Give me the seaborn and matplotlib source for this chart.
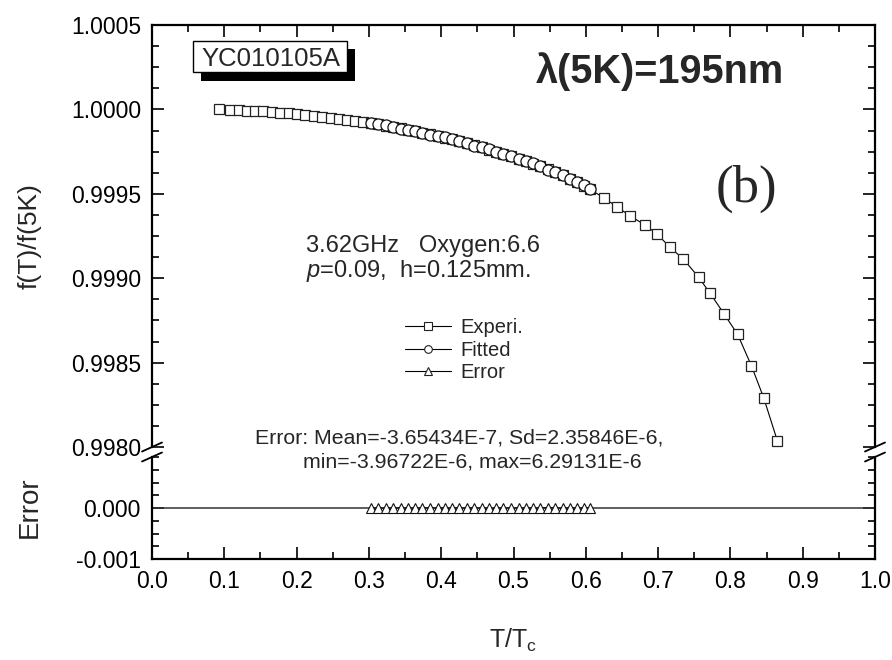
import matplotlib
matplotlib.use("Agg")
import matplotlib.pyplot as plt
import seaborn as sns
from matplotlib.ticker import FixedLocator, MultipleLocator, FormatStrFormatter
from matplotlib.patches import Rectangle
from matplotlib.lines import Line2D

sns.set_theme(style="ticks")
plt.rcParams["font.family"] = ["Liberation Sans", "DejaVu Sans"]
plt.rcParams["mathtext.fontset"] = "custom"
plt.rcParams["mathtext.rm"] = "Liberation Sans"
plt.rcParams["mathtext.it"] = "Liberation Sans:italic"

# ---- measured frequency shift, normalised to f(5K) ----
t_exp = [0.093, 0.108, 0.120, 0.131, 0.143, 0.154, 0.166, 0.177, 0.189, 0.200,
         0.212, 0.224, 0.235, 0.247, 0.258, 0.270, 0.281, 0.292,
         0.303, 0.313, 0.323, 0.333, 0.344, 0.354, 0.364, 0.374, 0.384, 0.395,
         0.405, 0.415, 0.425, 0.435, 0.446, 0.456, 0.466, 0.476, 0.486, 0.497,
         0.507, 0.517, 0.527, 0.537, 0.548, 0.558, 0.568, 0.578, 0.588, 0.597,
         0.606,
         0.625, 0.643, 0.661, 0.682, 0.699, 0.716, 0.735, 0.756, 0.772, 0.791,
         0.810, 0.829, 0.846, 0.865]
f_exp = [1.000000, 0.999998, 0.999996, 0.999993, 0.999990, 0.999988, 0.999984,
         0.999981, 0.999977, 0.999973, 0.999968, 0.999962, 0.999957, 0.999951,
         0.999945, 0.999939, 0.999932, 0.999925,
         0.999918, 0.999911, 0.999904, 0.999896, 0.999887, 0.999879, 0.999871,
         0.999862, 0.999853, 0.999842, 0.999832, 0.999822, 0.999811, 0.999801,
         0.999788, 0.999776, 0.999760, 0.999748, 0.999735, 0.999721, 0.999707,
         0.999693, 0.999679, 0.999664, 0.999646, 0.999628, 0.999610, 0.999590,
         0.999569, 0.999548, 0.999526,
         0.999476, 0.999423, 0.999370, 0.999315, 0.999260, 0.999185, 0.999113,
         0.999006, 0.998910, 0.998790, 0.998667, 0.998482, 0.998292, 0.998036]

# ---- model fit over the 0.30 - 0.61 window ----
t_fit = [0.303, 0.313, 0.323, 0.333, 0.344, 0.354, 0.364, 0.374, 0.384, 0.395,
         0.405, 0.415, 0.425, 0.435, 0.446, 0.456, 0.466, 0.476, 0.486, 0.497,
         0.507, 0.517, 0.527, 0.537, 0.548, 0.558, 0.568, 0.578, 0.588, 0.597,
         0.606]
f_fit = [0.999917, 0.999912, 0.999906, 0.999896, 0.999885, 0.999880, 0.999874,
         0.999861, 0.999850, 0.999842, 0.999834, 0.999822, 0.999814, 0.999800,
         0.999785, 0.999777, 0.999764, 0.999749, 0.999734, 0.999723, 0.999705,
         0.999694, 0.999681, 0.999664, 0.999640, 0.999630, 0.999613, 0.999590,
         0.999568, 0.999551, 0.999527]
err_fit = [1.2e-6, -0.8e-6, -2.1e-6, 0.5e-6, 1.8e-6, -1.4e-6, -3.1e-6, 0.9e-6,
           2.6e-6, -0.3e-6, -1.9e-6, 0.4e-6, -2.7e-6, 1.1e-6, 3.0e-6, -0.6e-6,
           -3.96722e-6, -1.2e-6, 0.7e-6, -2.2e-6, 1.6e-6, -0.9e-6, -2.5e-6,
           0.2e-6, 6.29131e-6, -1.7e-6, -3.3e-6, -0.4e-6, 1.3e-6, -2.8e-6, -0.9e-6]

x_ticks = [0.0, 0.1, 0.2, 0.3, 0.4, 0.5, 0.6, 0.7, 0.8, 0.9, 1.0]
y_ticks_top = [0.9980, 0.9985, 0.9990, 0.9995, 1.0000, 1.0005]
y_ticks_bot = [-0.001, 0.000]

W, H = 892, 660
fig = plt.figure(figsize=(W / 100, H / 100), dpi=100)


def fx(px):
    return px / W


def fy(py):
    return 1 - py / H


x0, x1 = 152, 875
ax = fig.add_axes([fx(x0), fy(447), fx(x1) - fx(x0), fy(25) - fy(447)])
axe = fig.add_axes([fx(x0), fy(559), fx(x1) - fx(x0), fy(457) - fy(559)])

spine_w = 1.6
for a in (ax, axe):
    for s in a.spines.values():
        s.set_linewidth(spine_w)
        s.set_color("black")
    a.set_xlim(0.0, 1.0)
    a.set_facecolor("white")
ax.spines["bottom"].set_visible(False)
axe.spines["top"].set_visible(False)

# experimental points with connecting line
sns.lineplot(x=t_exp, y=f_exp, ax=ax, sort=False, estimator=None,
             color="black", lw=0.8, marker="s", ms=6.7, mfc="white",
             mec="#222222", mew=0.9, zorder=3)
# fitted points drawn on top
sns.lineplot(x=t_fit, y=f_fit, ax=ax, sort=False, estimator=None,
             color="black", lw=0.8, marker="o", ms=8.0, mfc="white",
             mec="#111111", mew=0.9, zorder=4)
ax.set_ylim(0.9980, 1.0005)

# residuals
axe.axhline(0.0, color="#333333", lw=1.1, zorder=1)
sns.lineplot(x=t_fit, y=err_fit, ax=axe, sort=False, estimator=None,
             color="black", lw=0.8, marker="^", ms=7.5, mfc="white",
             mec="#111111", mew=0.8, zorder=3)
axe.set_ylim(-0.001, 0.001)

# ticks
tick_font = 16.5
ax.yaxis.set_major_locator(FixedLocator(y_ticks_top))
ax.yaxis.set_minor_locator(MultipleLocator(0.000125))
ax.yaxis.set_major_formatter(FormatStrFormatter("%.4f"))
ax.xaxis.set_major_locator(FixedLocator(x_ticks))
ax.xaxis.set_minor_locator(MultipleLocator(0.05))
ax.tick_params(which="both", direction="in", left=True, right=True,
               top=True, bottom=False, labelbottom=False, labeltop=False,
               labelleft=True, labelright=False, labelsize=tick_font,
               pad=8, colors="black")
ax.tick_params(which="major", length=8.5, width=1.2)
ax.tick_params(which="minor", length=5, width=1.2)

axe.yaxis.set_major_locator(FixedLocator(y_ticks_bot))
axe.yaxis.set_minor_locator(MultipleLocator(0.00025))
axe.yaxis.set_major_formatter(FormatStrFormatter("%.3f"))
axe.xaxis.set_major_locator(FixedLocator(x_ticks))
axe.xaxis.set_minor_locator(MultipleLocator(0.05))
axe.xaxis.set_major_formatter(FormatStrFormatter("%.1f"))
axe.tick_params(which="both", direction="in", left=True, right=True,
                top=False, bottom=True, labelleft=True, labelbottom=True,
                labelsize=tick_font, pad=8, colors="black")
axe.tick_params(which="major", length=8.5, width=1.2)
axe.tick_params(which="minor", length=5, width=1.2)
for a in (ax, axe):
    a.set_xlabel("")
    a.set_ylabel("")

# axis-break marks on both y spines
for xs in (x0, x1):
    for yb in (447, 457):
        fig.add_artist(Line2D([fx(xs - 10), fx(xs + 10)], [fy(yb + 4.5), fy(yb - 4.5)],
                              transform=fig.transFigure, color="black", lw=1.3))

# axis titles
fig.text(fx(30), fy(236), "f(T)/f(5K)", rotation=90, ha="center", va="center",
         fontsize=19)
fig.text(fx(30), fy(507), "Error", rotation=90, ha="center", va="center",
         fontsize=20)
fig.text(fx(513), fy(648), r"T/T$_\mathregular{c}$", ha="center", va="baseline",
         fontsize=18)

# sample tag with drop shadow
fig.add_artist(Rectangle((fx(201), fy(81)), fx(355) - fx(201), fy(49) - fy(81),
                         transform=fig.transFigure, facecolor="black",
                         edgecolor="black", lw=0))
fig.add_artist(Rectangle((fx(193), fy(72)), fx(347) - fx(193), fy(41) - fy(72),
                         transform=fig.transFigure, facecolor="white",
                         edgecolor="black", lw=1.0))
fig.text(fx(271), fy(66), "YC010105A", ha="center", va="baseline", fontsize=18.5)

fig.text(fx(536), fy(83), "λ(5K)=195nm", ha="left", va="baseline",
         fontsize=28.5, fontweight="bold")
fig.text(fx(746), fy(202), "(b)", ha="center", va="baseline", fontsize=38,
         family=["Liberation Serif", "DejaVu Serif"])

fig.text(fx(306), fy(252), "3.62GHz   Oxygen:6.6", ha="left", va="baseline",
         fontsize=17)
fig.text(fx(306), fy(277), r"$p$=0.09,  h=0.125mm.", ha="left", va="baseline",
         fontsize=17)

fig.text(fx(255), fy(443), "Error: Mean=-3.65434E-7, Sd=2.35846E-6,",
         ha="left", va="baseline", fontsize=15.3)
fig.text(fx(303), fy(468), "min=-3.96722E-6, max=6.29131E-6",
         ha="left", va="baseline", fontsize=15.3)

# legend
handles = [
    Line2D([], [], color="black", lw=0.8, marker="s", ms=5.5, mfc="white", mec="#222222", mew=0.8),
    Line2D([], [], color="black", lw=0.8, marker="o", ms=5.5, mfc="white", mec="#222222", mew=0.8),
    Line2D([], [], color="black", lw=0.8, marker="^", ms=5.5, mfc="white", mec="#222222", mew=0.8),
]
fig.legend(handles, ["Experi.", "Fitted", "Error"], loc="upper left",
           bbox_to_anchor=(fx(405), fy(318)), bbox_transform=fig.transFigure,
           frameon=False, fontsize=14.5, handlelength=2.3, handletextpad=0.45,
           labelspacing=0.18, borderpad=0, borderaxespad=0)

fig.savefig("out.png", dpi=100, facecolor="white")
